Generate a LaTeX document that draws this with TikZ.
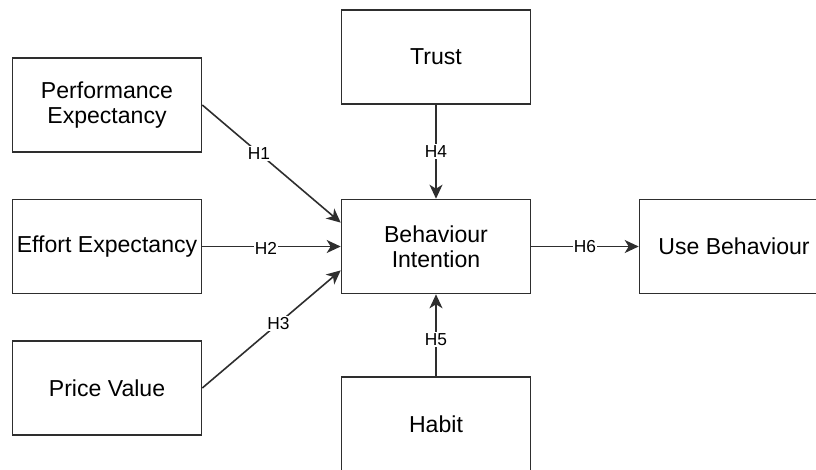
\documentclass[tikz,border=0pt]{standalone}
\usepackage{fontspec}
\setmainfont{Liberation Sans}
\usetikzlibrary{arrows.meta,calc}
\definecolor{ln}{HTML}{2E2E2E}
\begin{document}
\begin{tikzpicture}[x=0.75pt,y=-0.75pt,
 box/.style={draw=ln,line width=1.2pt,minimum width=141.75pt,minimum height=70.5pt,inner sep=0pt,align=center,font=\fontsize{17.3}{19}\selectfont,text=black},
 conn/.style={draw=ln,line width=1.2pt,-{Stealth[length=10.5pt,width=9.75pt,inset=3pt]}},
 lbl/.style={fill=white,inner sep=1pt,font=\fontsize{13}{14}\selectfont,text=black}]
\useasboundingbox (0,0) rectangle (816,469);
\clip (0,0) rectangle (816,469);
\node[box] (pe) at (107,105) {Performance\\Expectancy};
\node[box] (ee) at (107,246.5) {Effort Expectancy};
\node[box] (pv) at (107,388) {Price Value};
\node[box] (tr) at (436,57) {Trust};
\node[box] (bi) at (436,246.5) {Behaviour\\Intention};
\node[box] (hb) at (436,424) {Habit};
\node[box] (ub) at (734,246.5) {Use Behaviour};
\coordinate (bi1) at ($(bi.north west)!0.25!(bi.south west)$);
\coordinate (bi3) at ($(bi.north west)!0.75!(bi.south west)$);
\draw[conn] (pe.east) -- node[lbl,pos=0.41] {H1} (bi1);
\draw[conn] (ee.east) -- node[lbl,pos=0.46,yshift=-1.5pt] {H2} (bi.west);
\draw[conn] (pv.east) -- node[lbl,pos=0.55] {H3} (bi3);
\draw[conn] (tr.south) -- node[lbl,pos=0.5] {H4} (bi.north);
\draw[conn] (hb.north) -- node[lbl,pos=0.45] {H5} (bi.south);
\draw[conn] (bi.east) -- node[lbl,pos=0.5] {H6} (ub.west);
\end{tikzpicture}
\end{document}
